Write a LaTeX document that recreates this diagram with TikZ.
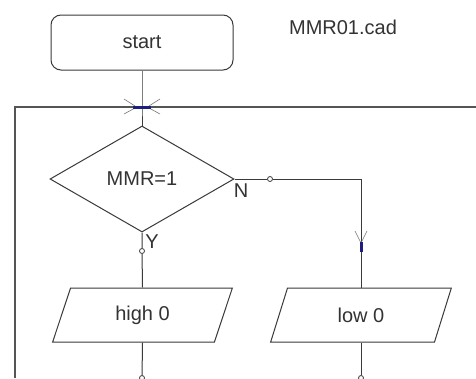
\documentclass[tikz,border=0pt]{standalone}
\usepackage{fontspec}
\setmainfont{Liberation Sans}
\usetikzlibrary{shapes.geometric,positioning}
\definecolor{fline}{HTML}{3A3A3A}
\definecolor{ftext}{HTML}{333333}
\definecolor{fframe}{HTML}{555555}
\definecolor{fmark}{HTML}{1E1E80}
\tikzset{
  startbox/.style={draw=fline, line width=1pt, rounded corners=10pt,
    minimum width=182pt, minimum height=55pt, inner sep=0pt},
  decbox/.style={diamond, draw=fline, line width=1pt,
    minimum width=184pt, minimum height=106pt, inner sep=0pt},
  iobox/.style={trapezium, trapezium left angle=70, trapezium right angle=110,
    trapezium stretches=true, draw=fline, line width=1pt,
    minimum width=181pt, minimum height=54pt, inner sep=0pt},
  flow/.style={draw=fline, line width=1pt},
  joint/.style={circle, draw=fline, fill=white, line width=0.8pt,
    inner sep=0pt, minimum size=5pt},
  tag/.style={text=ftext, inner sep=0pt}
}

\begin{document}
\begin{tikzpicture}[x=1pt, y=-1pt,
    every node/.style={font=\fontsize{20}{24}\selectfont, text=ftext}]
    \useasboundingbox[fill=white] (0,0) rectangle (476,378);
    % frame of the loop
    \draw[fframe, line width=2pt] (15,378) -- (15,107) -- (476,107);
    % blocks
    \node[startbox] (start) at (142,42.5) {start};
    \node[tag] (file) at (343,27) {MMR01.cad};
    \node[decbox] (mmr) at (142,179) {MMR=1};
    \node[iobox] (high) at (142.5,315) {high 0};
    \node[iobox] (low) at (361,315) {low 0};
    % branch points
    \coordinate (cross) at (142,107);
    \coordinate (nturn) at (361,179);
    \node[joint] (njoint) at (270,179) {};
    \node[joint] (yjoint) at (142,251) {};
    \node[joint] (hend) at (142,378) {};
    \node[joint] (lend) at (361,378) {};
    \node[tag] (nlab) at (241,191) {N};
    \node[tag] (ylab) at (152,242) {Y};
    % connectors
    \draw[flow] (start) -- (cross) -- (mmr.north);
    \draw[flow] (mmr.east) -- (njoint) -- (nturn) -- (low.north);
    \draw[flow] (mmr.south) -- (yjoint) -- (high.north);
    \draw[flow] (high.south) -- (hend);
    \draw[flow] (low.south) -- (lend);
    % crossing marks
    \draw[fline!70, line width=0.6pt] (124,99) -- (135,106) (124,114) -- (135,108)
      (160,99) -- (149,106) (160,114) -- (149,108);
    \draw[fmark, line width=3pt] (133,107) -- (151,107);
    \draw[fline!70, line width=0.6pt] (355,231) -- (361,243) -- (367,231);
    \draw[fmark, line width=3pt] (361,242) -- (361,252);
  \end{tikzpicture}
\end{document}
